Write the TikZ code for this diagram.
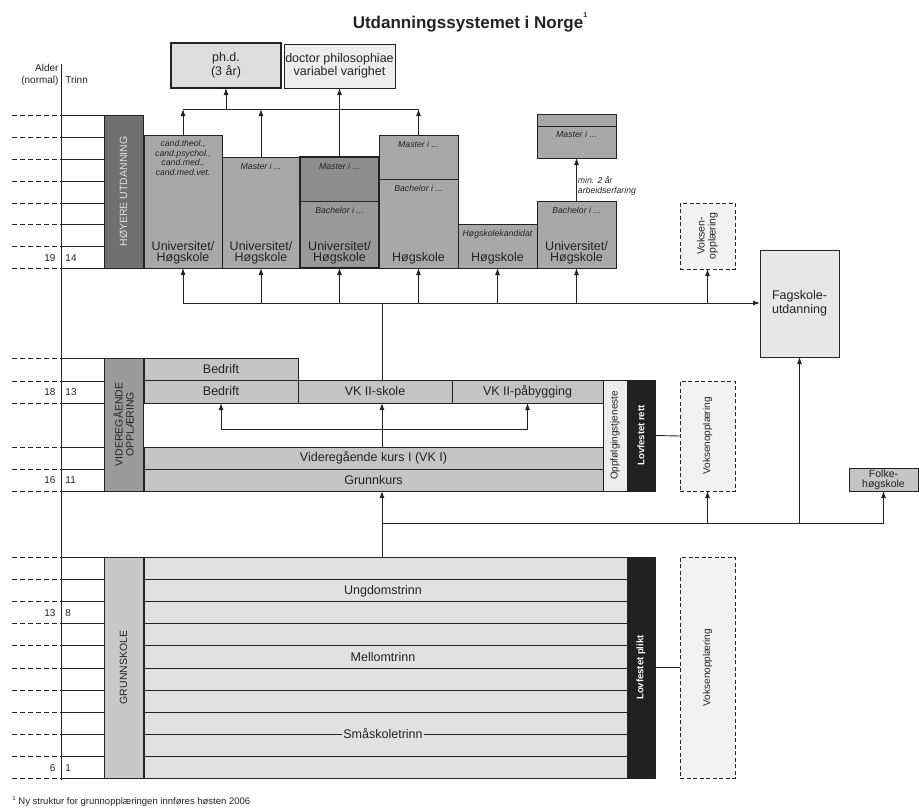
\documentclass[tikz,border=0pt]{standalone}
\usepackage{fontspec}
\setmainfont{Liberation Sans}
\usetikzlibrary{arrows.meta,positioning,calc}
\definecolor{ink}{RGB}{35,35,35}
\definecolor{hoyfill}{RGB}{112,112,112}
\definecolor{hoytext}{RGB}{222,222,222}
\definecolor{unifill}{RGB}{168,168,168}
\definecolor{u3top}{RGB}{142,142,142}
\definecolor{u3bot}{RGB}{153,153,153}
\definecolor{phdfill}{RGB}{221,221,221}
\definecolor{drfill}{RGB}{237,237,237}
\definecolor{voksfill}{RGB}{242,242,242}
\definecolor{fagfill}{RGB}{231,231,231}
\definecolor{vgofill}{RGB}{155,155,155}
\definecolor{vgsfill}{RGB}{196,196,196}
\definecolor{opffill}{RGB}{236,236,236}
\definecolor{lovfill}{RGB}{33,33,33}
\definecolor{grsfill}{RGB}{200,200,200}
\definecolor{gsfill}{RGB}{225,225,225}
\tikzset{
  every picture/.style={color=ink, line width=0.9pt},
  blk/.style={draw=ink, anchor=north west, inner sep=0pt, outer sep=0pt, align=center, font=\fontsize{12.5}{11}\selectfont},
  uni/.style={blk, fill=unifill},
  vgs/.style={blk, fill=vgsfill},
  heavy/.style={line width=2.4pt},
  voks/.style={blk, fill=voksfill, dash pattern=on 4pt off 2.5pt},
  lov/.style={blk, fill=lovfill},
  lbl/.style={inner sep=0pt, align=center, font=\fontsize{12.5}{11}\selectfont},
  small/.style={inner sep=0pt, align=center, font=\fontsize{8.7}{9.5}\selectfont\itshape},
  vlbl/.style={rotate=90, inner sep=0pt, align=center, font=\fontsize{10.5}{11}\selectfont},
  axis/.style={inner sep=0pt, align=right, font=\fontsize{10}{12}\selectfont},
  tick/.style={dash pattern=on 5pt off 3pt},
  flow/.style={-{Latex[length=7pt,width=5pt]}},
}

\begin{document}
\begin{tikzpicture}[x=1pt,y=-1pt]
  \useasboundingbox (0,0) rectangle (919,807);
  \node[font=\fontsize{17}{20}\selectfont\bfseries] (ttl) at (470,22) {Utdanningssystemet i Norge\raisebox{1.2ex}{\fontsize{7}{7}\selectfont 1}};

  % age / grade axis
  \draw (61,64) -- (61,780);
  \node[axis, anchor=north east] (alder) at (59,64) {Alder\\(normal)};
  \node[axis, anchor=north west] (trinn) at (65,76) {Trinn};
  \foreach \y in {115,137,159,181,203,224,246,268,358,381,403,447,469,491,557,579,601,623,645,668,690,712,734,756,778} {
    \draw[tick] (12,\y) -- (61,\y);
    \draw (61,\y) -- (104,\y);
  }
  \foreach \a/\t/\y in {19/14/258, 18/13/392, 16/11/480, 13/8/613, 6/1/768} {
    \node[axis, anchor=east] (age\a) at (56,\y) {\a};
    \node[axis, anchor=west] (trinn\t) at (65,\y) {\t};
  }
  \coordinate (spine) at (382,0);
  \coordinate (jtop) at (0,109);
  \coordinate (jmid) at (0,303);
  \coordinate (jvgs) at (0,429);
  \coordinate (jlow) at (0,523);

  % hoyere utdanning
  \node[blk, fill=hoyfill, minimum width=39pt, minimum height=153pt] (hoy) at (104,115) {};
  \node[vlbl, text=hoytext] (hoyt) at (hoy.center) {HØYERE UTDANNING};
  \node[uni, minimum width=78pt, minimum height=133pt] (u1) at (144,135) {};
  \node[small, below=5pt of u1.north] (u1t) {cand.theol.,\\cand.psychol.,\\cand.med.,\\cand.med.vet.};
  \node[lbl, above=3pt of u1.south] (u1b) {Universitet/\\Høgskole};
  \node[uni, minimum width=78pt, minimum height=111pt] (u2) at (222,157) {};
  \node[small, below=6pt of u2.north] (u2t) {Master i ...};
  \node[lbl, above=3pt of u2.south] (u2b) {Universitet/\\Høgskole};
  \node[blk, fill=u3top, minimum width=79pt, minimum height=44pt] (u3m) at (300,157) {};
  \node[blk, fill=u3bot, minimum width=79pt, minimum height=67pt] (u3b) at (300,201) {};
  \draw[heavy] (u3m.north west) rectangle (u3b.south east);
  \node[small, below=6pt of u3m.north] (u3t) {Master i ...};
  \node[small, below=6pt of u3b.north] (u3s) {Bachelor i ...};
  \node[lbl, above=3pt of u3b.south] (u3l) {Universitet/\\Høgskole};
  \node[uni, minimum width=79pt, minimum height=44pt] (u4m) at (379,135) {};
  \node[uni, minimum width=79pt, minimum height=89pt] (u4b) at (379,179) {};
  \node[small, below=6pt of u4m.north] (u4t) {Master i ...};
  \node[small, below=6pt of u4b.north] (u4s) {Bachelor i ...};
  \node[lbl, above=3pt of u4b.south] (u4l) {Høgskole};
  \node[uni, minimum width=79pt, minimum height=44pt] (u5) at (458,224) {};
  \node[small, below=6pt of u5.north] (u5t) {Høgskolekandidat};
  \node[lbl, above=3pt of u5.south] (u5l) {Høgskole};
  \node[uni, minimum width=79pt, minimum height=67pt] (u6) at (537,201) {};
  \node[small, below=6pt of u6.north] (u6t) {Bachelor i ...};
  \node[lbl, above=3pt of u6.south] (u6l) {Universitet/\\Høgskole};
  \node[uni, minimum width=79pt, minimum height=12pt] (m6a) at (537,114) {};
  \node[uni, minimum width=79pt, minimum height=32pt] (m6b) at (537,126) {};
  \node[small, below=5pt of m6b.north] (m6t) {Master i ...};
  \node[blk, heavy, fill=phdfill, minimum width=110pt, minimum height=45pt] (phd) at (171,43) {ph.d.\\(3 år)};
  \node[blk, fill=drfill, minimum width=111pt, minimum height=44pt] (dphil) at (284,44) {doctor philosophiae\\variabel varighet};
  \node[voks, minimum width=55pt, minimum height=66pt] (voks1) at (680,203) {};
  \node[vlbl] (voks1t) at (voks1.center) {Voksen-\\opplæring};
  \node[blk, fill=fagfill, minimum width=79pt, minimum height=107pt, font=\fontsize{12.5}{14}\selectfont] (fag) at (760,250) {Fagskole-\\utdanning};

  \draw (u1.north |- jtop) -- (u4m.north |- jtop);
  \foreach \n in {u1,u2,u4m} \draw[flow] (\n.north) -- (\n.north |- jtop);
  \draw[flow] (phd.south |- jtop) -- (phd.south);
  \draw[flow] (u3m.north) -- (dphil.south);
  \draw[flow] (u6.north) -- node[pos=0.35, right=1pt, small, align=left] (erf) {min. 2 år\\arbeidserfaring} (m6b.south);

  % videregaende
  \node[blk, fill=vgofill, minimum width=39pt, minimum height=133pt] (vgo) at (104,358) {};
  \node[vlbl] (vgot) at (vgo.center) {VIDEREGÅENDE\\OPPLÆRING};
  \node[vgs, minimum width=154pt, minimum height=22pt] (bed1) at (144,358) {Bedrift};
  \node[vgs, minimum width=154pt, minimum height=23pt] (bed2) at (144,380) {Bedrift};
  \node[vgs, minimum width=154pt, minimum height=23pt] (vk2s) at (298,380) {VK II-skole};
  \node[vgs, minimum width=151pt, minimum height=23pt] (vk2p) at (452,380) {VK II-påbygging};
  \node[vgs, minimum width=459pt, minimum height=22pt] (vk1) at (144,447) {Videregående kurs I (VK I)};
  \node[vgs, minimum width=459pt, minimum height=22pt] (gk) at (144,469) {Grunnkurs};
  \node[blk, fill=opffill, minimum width=24pt, minimum height=111pt] (opf) at (603,380) {};
  \node[vlbl, font=\fontsize{10}{11}\selectfont] (opft) at (opf.center) {Oppfølgingstjeneste};
  \node[lov, minimum width=28pt, minimum height=111pt] (lovr) at (627,380) {};
  \node[vlbl, text=white, font=\fontsize{9.5}{11}\selectfont\bfseries] (lovrt) at (lovr.center) {Lovfestet rett};
  \node[voks, minimum width=55pt, minimum height=110pt] (voks2) at (680,381) {};
  \node[vlbl, font=\fontsize{10}{11}\selectfont] (voks2t) at (voks2.center) {Voksenopplæring};
  \node[vgs, minimum width=69pt, minimum height=23pt, font=\fontsize{10.5}{10}\selectfont] (folk) at (849,468) {Folke-\\høgskole};

  \draw[flow] (u1.south |- jmid) -- (fag.west |- jmid);
  \foreach \n in {u1,u2,u3b,u4b,u5,u6,voks1} \draw[flow] (\n.south |- jmid) -- (\n.south);
  \draw (vk2s.north -| spine) -- (spine |- jmid);
  \draw (bed2.south |- jvgs) -- (vk2p.south |- jvgs);
  \draw[flow] (bed2.south |- jvgs) -- (bed2.south);
  \draw[flow] (vk2p.south |- jvgs) -- (vk2p.south);
  \draw[flow] (vk1.north -| spine) -- (vk2s.south -| spine);
  \draw (lovr.east) -- (voks2.west);

  % grunnskole
  \node[blk, fill=grsfill, minimum width=39pt, minimum height=221pt] (grs) at (104,557) {};
  \node[vlbl] (grst) at (grs.center) {GRUNNSKOLE};
  \node[blk, fill=gsfill, minimum width=483pt, minimum height=221pt] (gs) at (144,557) {};
  \foreach \y in {579,601,623,645,668,690,712,734,756} \draw (144,\y) -- (627,\y);
  \node[lbl] (ungt) at (383,591) {Ungdomstrinn};
  \node[lbl] (melt) at (383,657) {Mellomtrinn};
  \node[lbl, fill=gsfill, inner sep=1pt] (smat) at (383,734) {Småskoletrinn};
  \node[lov, minimum width=28pt, minimum height=221pt] (lovp) at (627,557) {};
  \node[vlbl, text=white, font=\fontsize{9.5}{11}\selectfont\bfseries] (lovpt) at (lovp.center) {Lovfestet plikt};
  \node[voks, minimum width=55pt, minimum height=221pt] (voks3) at (680,557) {};
  \node[vlbl, font=\fontsize{10}{11}\selectfont] (voks3t) at (voks3.center) {Voksenopplæring};
  \draw (lovp.east) -- (voks3.west);

  \draw[flow] (gs.north -| spine) -- (gk.south -| spine);
  \draw (spine |- jlow) -- (folk.south |- jlow);
  \foreach \n in {voks2,fag,folk} \draw[flow] (\n.south |- jlow) -- (\n.south);

  \node[anchor=west, inner sep=0pt, font=\fontsize{9.5}{11}\selectfont] (fn) at (12,801) {\raisebox{0.8ex}{\fontsize{6}{6}\selectfont 1} Ny struktur for grunnopplæringen innføres høsten 2006};
\end{tikzpicture}
\end{document}
